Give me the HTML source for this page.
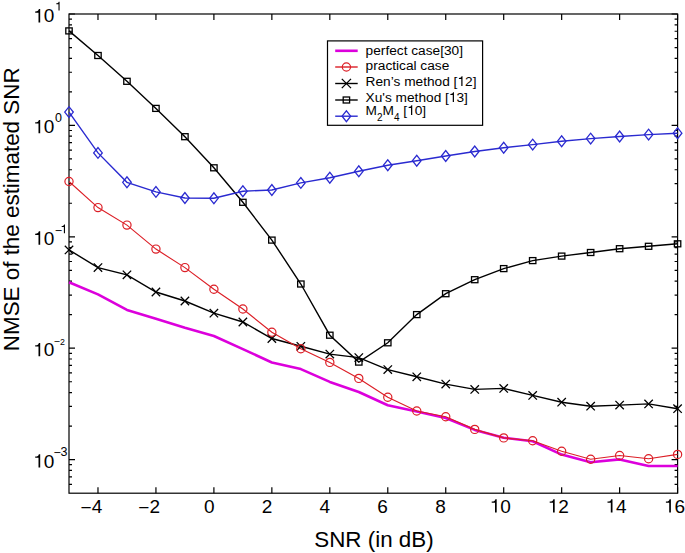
<!DOCTYPE html>
<html><head><meta charset="utf-8"><style>
html,body{margin:0;padding:0;background:#fff;}
svg{display:block;font-family:"Liberation Sans",sans-serif;}
</style></head><body>
<svg width="685" height="553" viewBox="0 0 685 553">
<rect x="69.0" y="14.0" width="608.60" height="479.20" fill="none" stroke="#000" stroke-width="1.2"/>
<path d="M97.98,493.2v-6M97.98,14.0v6M155.94,493.2v-6M155.94,14.0v6M213.90,493.2v-6M213.90,14.0v6M271.86,493.2v-6M271.86,14.0v6M329.82,493.2v-6M329.82,14.0v6M387.78,493.2v-6M387.78,14.0v6M445.74,493.2v-6M445.74,14.0v6M503.70,493.2v-6M503.70,14.0v6M561.66,493.2v-6M561.66,14.0v6M619.62,493.2v-6M619.62,14.0v6M677.58,493.2v-6M677.58,14.0v6M69.0,459.60h6M677.6,459.60h-6M69.0,484.31h3M677.6,484.31h-3M69.0,476.86h3M677.6,476.86h-3M69.0,470.40h3M677.6,470.40h-3M69.0,464.70h3M677.6,464.70h-3M69.0,348.20h6M677.6,348.20h-6M69.0,426.07h3M677.6,426.07h-3M69.0,406.45h3M677.6,406.45h-3M69.0,392.53h3M677.6,392.53h-3M69.0,381.73h3M677.6,381.73h-3M69.0,372.91h3M677.6,372.91h-3M69.0,365.46h3M677.6,365.46h-3M69.0,359.00h3M677.6,359.00h-3M69.0,353.30h3M677.6,353.30h-3M69.0,236.80h6M677.6,236.80h-6M69.0,314.67h3M677.6,314.67h-3M69.0,295.05h3M677.6,295.05h-3M69.0,281.13h3M677.6,281.13h-3M69.0,270.33h3M677.6,270.33h-3M69.0,261.51h3M677.6,261.51h-3M69.0,254.06h3M677.6,254.06h-3M69.0,247.60h3M677.6,247.60h-3M69.0,241.90h3M677.6,241.90h-3M69.0,125.40h6M677.6,125.40h-6M69.0,203.27h3M677.6,203.27h-3M69.0,183.65h3M677.6,183.65h-3M69.0,169.73h3M677.6,169.73h-3M69.0,158.93h3M677.6,158.93h-3M69.0,150.11h3M677.6,150.11h-3M69.0,142.66h3M677.6,142.66h-3M69.0,136.20h3M677.6,136.20h-3M69.0,130.50h3M677.6,130.50h-3M69.0,14.00h6M677.6,14.00h-6M69.0,91.87h3M677.6,91.87h-3M69.0,72.25h3M677.6,72.25h-3M69.0,58.33h3M677.6,58.33h-3M69.0,47.53h3M677.6,47.53h-3M69.0,38.71h3M677.6,38.71h-3M69.0,31.26h3M677.6,31.26h-3M69.0,24.80h3M677.6,24.80h-3M69.0,19.10h3M677.6,19.10h-3" stroke="#000" stroke-width="1.2" fill="none"/>
<polyline points="69.00,282.30 97.98,294.40 126.96,309.90 155.94,318.70 184.92,327.80 213.90,336.00 242.88,349.10 271.86,362.50 300.84,369.10 329.82,381.90 358.80,392.00 387.78,405.20 416.76,411.50 445.74,418.00 474.72,429.90 503.70,437.70 532.68,441.30 561.66,454.60 590.64,462.30 619.62,459.40 648.60,466.00 677.58,466.00" fill="none" stroke="#dc00dc" stroke-width="2.6" stroke-linejoin="round"/>
<polyline points="69.00,30.90 97.98,55.50 126.96,81.30 155.94,108.40 184.92,136.70 213.90,167.80 242.88,202.30 271.86,240.10 300.84,284.00 329.82,335.20 358.80,362.10 387.78,342.80 416.76,314.60 445.74,293.70 474.72,279.70 503.70,268.60 532.68,260.60 561.66,256.10 590.64,252.50 619.62,248.70 648.60,246.30 677.58,243.80" fill="none" stroke="#000" stroke-width="1.4"/>
<polyline points="69.00,112.10 97.98,152.90 126.96,182.30 155.94,191.90 184.92,198.00 213.90,198.30 242.88,191.20 271.86,190.00 300.84,182.90 329.82,177.70 358.80,171.30 387.78,165.20 416.76,160.70 445.74,156.00 474.72,151.50 503.70,147.70 532.68,144.60 561.66,141.30 590.64,138.60 619.62,136.50 648.60,134.60 677.58,133.20" fill="none" stroke="#2a2ad0" stroke-width="1.4"/>
<polyline points="69.00,249.90 97.98,267.60 126.96,274.80 155.94,292.00 184.92,301.00 213.90,313.20 242.88,322.00 271.86,338.50 300.84,346.30 329.82,354.10 358.80,357.60 387.78,369.60 416.76,376.80 445.74,384.10 474.72,389.40 503.70,388.40 532.68,395.40 561.66,402.20 590.64,406.20 619.62,405.10 648.60,403.90 677.58,408.70" fill="none" stroke="#000" stroke-width="1.4"/>
<polyline points="69.00,181.50 97.98,207.60 126.96,225.10 155.94,249.10 184.92,267.60 213.90,289.20 242.88,309.00 271.86,332.20 300.84,348.80 329.82,362.40 358.80,378.40 387.78,397.20 416.76,411.00 445.74,416.70 474.72,429.40 503.70,437.90 532.68,440.80 561.66,451.30 590.64,459.20 619.62,455.50 648.60,458.70 677.58,454.40" fill="none" stroke="#dc1e26" stroke-width="1.15"/>
<rect x="65.80" y="27.90" width="6.4" height="6.0" fill="none" stroke="#000" stroke-width="1.3"/>
<rect x="94.78" y="52.50" width="6.4" height="6.0" fill="none" stroke="#000" stroke-width="1.3"/>
<rect x="123.76" y="78.30" width="6.4" height="6.0" fill="none" stroke="#000" stroke-width="1.3"/>
<rect x="152.74" y="105.40" width="6.4" height="6.0" fill="none" stroke="#000" stroke-width="1.3"/>
<rect x="181.72" y="133.70" width="6.4" height="6.0" fill="none" stroke="#000" stroke-width="1.3"/>
<rect x="210.70" y="164.80" width="6.4" height="6.0" fill="none" stroke="#000" stroke-width="1.3"/>
<rect x="239.68" y="199.30" width="6.4" height="6.0" fill="none" stroke="#000" stroke-width="1.3"/>
<rect x="268.66" y="237.10" width="6.4" height="6.0" fill="none" stroke="#000" stroke-width="1.3"/>
<rect x="297.64" y="281.00" width="6.4" height="6.0" fill="none" stroke="#000" stroke-width="1.3"/>
<rect x="326.62" y="332.20" width="6.4" height="6.0" fill="none" stroke="#000" stroke-width="1.3"/>
<rect x="355.60" y="359.10" width="6.4" height="6.0" fill="none" stroke="#000" stroke-width="1.3"/>
<rect x="384.58" y="339.80" width="6.4" height="6.0" fill="none" stroke="#000" stroke-width="1.3"/>
<rect x="413.56" y="311.60" width="6.4" height="6.0" fill="none" stroke="#000" stroke-width="1.3"/>
<rect x="442.54" y="290.70" width="6.4" height="6.0" fill="none" stroke="#000" stroke-width="1.3"/>
<rect x="471.52" y="276.70" width="6.4" height="6.0" fill="none" stroke="#000" stroke-width="1.3"/>
<rect x="500.50" y="265.60" width="6.4" height="6.0" fill="none" stroke="#000" stroke-width="1.3"/>
<rect x="529.48" y="257.60" width="6.4" height="6.0" fill="none" stroke="#000" stroke-width="1.3"/>
<rect x="558.46" y="253.10" width="6.4" height="6.0" fill="none" stroke="#000" stroke-width="1.3"/>
<rect x="587.44" y="249.50" width="6.4" height="6.0" fill="none" stroke="#000" stroke-width="1.3"/>
<rect x="616.42" y="245.70" width="6.4" height="6.0" fill="none" stroke="#000" stroke-width="1.3"/>
<rect x="645.40" y="243.30" width="6.4" height="6.0" fill="none" stroke="#000" stroke-width="1.3"/>
<rect x="674.38" y="240.80" width="6.4" height="6.0" fill="none" stroke="#000" stroke-width="1.3"/>
<path d="M64.70,112.10L69.00,106.70L73.30,112.10L69.00,117.50Z" fill="none" stroke="#2a2ad0" stroke-width="1.3"/>
<path d="M93.68,152.90L97.98,147.50L102.28,152.90L97.98,158.30Z" fill="none" stroke="#2a2ad0" stroke-width="1.3"/>
<path d="M122.66,182.30L126.96,176.90L131.26,182.30L126.96,187.70Z" fill="none" stroke="#2a2ad0" stroke-width="1.3"/>
<path d="M151.64,191.90L155.94,186.50L160.24,191.90L155.94,197.30Z" fill="none" stroke="#2a2ad0" stroke-width="1.3"/>
<path d="M180.62,198.00L184.92,192.60L189.22,198.00L184.92,203.40Z" fill="none" stroke="#2a2ad0" stroke-width="1.3"/>
<path d="M209.60,198.30L213.90,192.90L218.20,198.30L213.90,203.70Z" fill="none" stroke="#2a2ad0" stroke-width="1.3"/>
<path d="M238.58,191.20L242.88,185.80L247.18,191.20L242.88,196.60Z" fill="none" stroke="#2a2ad0" stroke-width="1.3"/>
<path d="M267.56,190.00L271.86,184.60L276.16,190.00L271.86,195.40Z" fill="none" stroke="#2a2ad0" stroke-width="1.3"/>
<path d="M296.54,182.90L300.84,177.50L305.14,182.90L300.84,188.30Z" fill="none" stroke="#2a2ad0" stroke-width="1.3"/>
<path d="M325.52,177.70L329.82,172.30L334.12,177.70L329.82,183.10Z" fill="none" stroke="#2a2ad0" stroke-width="1.3"/>
<path d="M354.50,171.30L358.80,165.90L363.10,171.30L358.80,176.70Z" fill="none" stroke="#2a2ad0" stroke-width="1.3"/>
<path d="M383.48,165.20L387.78,159.80L392.08,165.20L387.78,170.60Z" fill="none" stroke="#2a2ad0" stroke-width="1.3"/>
<path d="M412.46,160.70L416.76,155.30L421.06,160.70L416.76,166.10Z" fill="none" stroke="#2a2ad0" stroke-width="1.3"/>
<path d="M441.44,156.00L445.74,150.60L450.04,156.00L445.74,161.40Z" fill="none" stroke="#2a2ad0" stroke-width="1.3"/>
<path d="M470.42,151.50L474.72,146.10L479.02,151.50L474.72,156.90Z" fill="none" stroke="#2a2ad0" stroke-width="1.3"/>
<path d="M499.40,147.70L503.70,142.30L508.00,147.70L503.70,153.10Z" fill="none" stroke="#2a2ad0" stroke-width="1.3"/>
<path d="M528.38,144.60L532.68,139.20L536.98,144.60L532.68,150.00Z" fill="none" stroke="#2a2ad0" stroke-width="1.3"/>
<path d="M557.36,141.30L561.66,135.90L565.96,141.30L561.66,146.70Z" fill="none" stroke="#2a2ad0" stroke-width="1.3"/>
<path d="M586.34,138.60L590.64,133.20L594.94,138.60L590.64,144.00Z" fill="none" stroke="#2a2ad0" stroke-width="1.3"/>
<path d="M615.32,136.50L619.62,131.10L623.92,136.50L619.62,141.90Z" fill="none" stroke="#2a2ad0" stroke-width="1.3"/>
<path d="M644.30,134.60L648.60,129.20L652.90,134.60L648.60,140.00Z" fill="none" stroke="#2a2ad0" stroke-width="1.3"/>
<path d="M673.28,133.20L677.58,127.80L681.88,133.20L677.58,138.60Z" fill="none" stroke="#2a2ad0" stroke-width="1.3"/>
<path d="M64.80,245.70L73.20,254.10M64.80,254.10L73.20,245.70" stroke="#000" stroke-width="1.3"/>
<path d="M93.78,263.40L102.18,271.80M93.78,271.80L102.18,263.40" stroke="#000" stroke-width="1.3"/>
<path d="M122.76,270.60L131.16,279.00M122.76,279.00L131.16,270.60" stroke="#000" stroke-width="1.3"/>
<path d="M151.74,287.80L160.14,296.20M151.74,296.20L160.14,287.80" stroke="#000" stroke-width="1.3"/>
<path d="M180.72,296.80L189.12,305.20M180.72,305.20L189.12,296.80" stroke="#000" stroke-width="1.3"/>
<path d="M209.70,309.00L218.10,317.40M209.70,317.40L218.10,309.00" stroke="#000" stroke-width="1.3"/>
<path d="M238.68,317.80L247.08,326.20M238.68,326.20L247.08,317.80" stroke="#000" stroke-width="1.3"/>
<path d="M267.66,334.30L276.06,342.70M267.66,342.70L276.06,334.30" stroke="#000" stroke-width="1.3"/>
<path d="M296.64,342.10L305.04,350.50M296.64,350.50L305.04,342.10" stroke="#000" stroke-width="1.3"/>
<path d="M325.62,349.90L334.02,358.30M325.62,358.30L334.02,349.90" stroke="#000" stroke-width="1.3"/>
<path d="M354.60,353.40L363.00,361.80M354.60,361.80L363.00,353.40" stroke="#000" stroke-width="1.3"/>
<path d="M383.58,365.40L391.98,373.80M383.58,373.80L391.98,365.40" stroke="#000" stroke-width="1.3"/>
<path d="M412.56,372.60L420.96,381.00M412.56,381.00L420.96,372.60" stroke="#000" stroke-width="1.3"/>
<path d="M441.54,379.90L449.94,388.30M441.54,388.30L449.94,379.90" stroke="#000" stroke-width="1.3"/>
<path d="M470.52,385.20L478.92,393.60M470.52,393.60L478.92,385.20" stroke="#000" stroke-width="1.3"/>
<path d="M499.50,384.20L507.90,392.60M499.50,392.60L507.90,384.20" stroke="#000" stroke-width="1.3"/>
<path d="M528.48,391.20L536.88,399.60M528.48,399.60L536.88,391.20" stroke="#000" stroke-width="1.3"/>
<path d="M557.46,398.00L565.86,406.40M557.46,406.40L565.86,398.00" stroke="#000" stroke-width="1.3"/>
<path d="M586.44,402.00L594.84,410.40M586.44,410.40L594.84,402.00" stroke="#000" stroke-width="1.3"/>
<path d="M615.42,400.90L623.82,409.30M615.42,409.30L623.82,400.90" stroke="#000" stroke-width="1.3"/>
<path d="M644.40,399.70L652.80,408.10M644.40,408.10L652.80,399.70" stroke="#000" stroke-width="1.3"/>
<path d="M673.38,404.50L681.78,412.90M673.38,412.90L681.78,404.50" stroke="#000" stroke-width="1.3"/>
<circle cx="69.00" cy="181.50" r="4.1" fill="none" stroke="#dc1e26" stroke-width="1.2"/>
<circle cx="97.98" cy="207.60" r="4.1" fill="none" stroke="#dc1e26" stroke-width="1.2"/>
<circle cx="126.96" cy="225.10" r="4.1" fill="none" stroke="#dc1e26" stroke-width="1.2"/>
<circle cx="155.94" cy="249.10" r="4.1" fill="none" stroke="#dc1e26" stroke-width="1.2"/>
<circle cx="184.92" cy="267.60" r="4.1" fill="none" stroke="#dc1e26" stroke-width="1.2"/>
<circle cx="213.90" cy="289.20" r="4.1" fill="none" stroke="#dc1e26" stroke-width="1.2"/>
<circle cx="242.88" cy="309.00" r="4.1" fill="none" stroke="#dc1e26" stroke-width="1.2"/>
<circle cx="271.86" cy="332.20" r="4.1" fill="none" stroke="#dc1e26" stroke-width="1.2"/>
<circle cx="300.84" cy="348.80" r="4.1" fill="none" stroke="#dc1e26" stroke-width="1.2"/>
<circle cx="329.82" cy="362.40" r="4.1" fill="none" stroke="#dc1e26" stroke-width="1.2"/>
<circle cx="358.80" cy="378.40" r="4.1" fill="none" stroke="#dc1e26" stroke-width="1.2"/>
<circle cx="387.78" cy="397.20" r="4.1" fill="none" stroke="#dc1e26" stroke-width="1.2"/>
<circle cx="416.76" cy="411.00" r="4.1" fill="none" stroke="#dc1e26" stroke-width="1.2"/>
<circle cx="445.74" cy="416.70" r="4.1" fill="none" stroke="#dc1e26" stroke-width="1.2"/>
<circle cx="474.72" cy="429.40" r="4.1" fill="none" stroke="#dc1e26" stroke-width="1.2"/>
<circle cx="503.70" cy="437.90" r="4.1" fill="none" stroke="#dc1e26" stroke-width="1.2"/>
<circle cx="532.68" cy="440.80" r="4.1" fill="none" stroke="#dc1e26" stroke-width="1.2"/>
<circle cx="561.66" cy="451.30" r="4.1" fill="none" stroke="#dc1e26" stroke-width="1.2"/>
<circle cx="590.64" cy="459.20" r="4.1" fill="none" stroke="#dc1e26" stroke-width="1.2"/>
<circle cx="619.62" cy="455.50" r="4.1" fill="none" stroke="#dc1e26" stroke-width="1.2"/>
<circle cx="648.60" cy="458.70" r="4.1" fill="none" stroke="#dc1e26" stroke-width="1.2"/>
<circle cx="677.58" cy="454.40" r="4.1" fill="none" stroke="#dc1e26" stroke-width="1.2"/>
<rect x="327.5" y="40.9" width="155.1" height="84.4" fill="#fff" stroke="#000" stroke-width="1.2"/>
<path d="M335.2,50.8H357.7" stroke="#dc00dc" stroke-width="2.6"/>
<path d="M335.2,67.0H357.7" stroke="#dc1e26" stroke-width="1.4"/>
<circle cx="346.40" cy="67.00" r="4.1" fill="none" stroke="#dc1e26" stroke-width="1.2"/>
<path d="M335.2,83.5H357.7" stroke="#000" stroke-width="1.4"/>
<path d="M341.80,78.90L351.00,88.10M341.80,88.10L351.00,78.90" stroke="#000" stroke-width="1.3"/>
<path d="M335.2,100.0H357.7" stroke="#000" stroke-width="1.4"/>
<rect x="343.20" y="97.00" width="6.4" height="6.0" fill="none" stroke="#000" stroke-width="1.3"/>
<path d="M335.2,116.2H357.7" stroke="#2a2ad0" stroke-width="1.4"/>
<path d="M342.10,116.20L346.40,110.80L350.70,116.20L346.40,121.60Z" fill="none" stroke="#2a2ad0" stroke-width="1.3"/>
<text x="365.60" y="55.00" font-size="13.7">perfect case[30]</text>
<text x="365.60" y="70.10" font-size="13.7">practical case</text>
<text x="365.60" y="86.00" font-size="13.7">Ren’s method [ 2]</text><path transform="matrix(13.7 0 0 -13.7 457.41 86.00)" d="M0.372,0L0.372,0.703L0.302,0.703C0.287,0.625 0.240,0.585 0.109,0.578L0.109,0.510L0.283,0.510L0.283,0Z"/>
<text x="365.60" y="102.00" font-size="13.7">Xu's method [ 3]</text><path transform="matrix(13.7 0 0 -13.7 448.87 102.00)" d="M0.372,0L0.372,0.703L0.302,0.703C0.287,0.625 0.240,0.585 0.109,0.578L0.109,0.510L0.283,0.510L0.283,0Z"/>
<text x="365.60" y="115.00" font-size="13.7">M</text>
<text x="377.01" y="121.40" font-size="10.0">2</text>
<text x="382.57" y="115.00" font-size="13.7">M</text>
<text x="393.98" y="121.40" font-size="10.0">4</text>
<text x="399.54" y="115.00" font-size="13.7"> [ 0]</text><path transform="matrix(13.7 0 0 -13.7 407.15 115.00)" d="M0.372,0L0.372,0.703L0.302,0.703C0.287,0.625 0.240,0.585 0.109,0.578L0.109,0.510L0.283,0.510L0.283,0Z"/>
<text x="80.56" y="514.40" font-size="19">−</text>
<text x="91.66" y="512.50" font-size="19">4</text>
<text x="138.36" y="514.40" font-size="19">−</text>
<text x="149.46" y="512.50" font-size="19">2</text>
<text x="203.96" y="512.50" font-size="19">0</text>
<text x="261.64" y="512.50" font-size="19">2</text>
<text x="319.56" y="512.50" font-size="19">4</text>
<text x="377.34" y="512.50" font-size="19">6</text>
<text x="435.17" y="512.50" font-size="19">8</text>
<text x="489.63" y="512.50" font-size="19"> 0</text><path transform="matrix(19 0 0 -19 489.63 512.50)" d="M0.372,0L0.372,0.703L0.302,0.703C0.287,0.625 0.240,0.585 0.109,0.578L0.109,0.510L0.283,0.510L0.283,0Z"/>
<text x="547.63" y="512.50" font-size="19"> 2</text><path transform="matrix(19 0 0 -19 547.63 512.50)" d="M0.372,0L0.372,0.703L0.302,0.703C0.287,0.625 0.240,0.585 0.109,0.578L0.109,0.510L0.283,0.510L0.283,0Z"/>
<text x="605.43" y="512.50" font-size="19"> 4</text><path transform="matrix(19 0 0 -19 605.43 512.50)" d="M0.372,0L0.372,0.703L0.302,0.703C0.287,0.625 0.240,0.585 0.109,0.578L0.109,0.510L0.283,0.510L0.283,0Z"/>
<text x="663.83" y="512.50" font-size="19"> 6</text><path transform="matrix(19 0 0 -19 663.83 512.50)" d="M0.372,0L0.372,0.703L0.302,0.703C0.287,0.625 0.240,0.585 0.109,0.578L0.109,0.510L0.283,0.510L0.283,0Z"/>
<text x="33.13" y="22.40" font-size="19"> 0</text><path transform="matrix(19 0 0 -19 33.13 22.40)" d="M0.372,0L0.372,0.703L0.302,0.703C0.287,0.625 0.240,0.585 0.109,0.578L0.109,0.510L0.283,0.510L0.283,0Z"/>
<text x="33.13" y="133.30" font-size="19"> 0</text><path transform="matrix(19 0 0 -19 33.13 133.30)" d="M0.372,0L0.372,0.703L0.302,0.703C0.287,0.625 0.240,0.585 0.109,0.578L0.109,0.510L0.283,0.510L0.283,0Z"/>
<text x="33.13" y="244.70" font-size="19"> 0</text><path transform="matrix(19 0 0 -19 33.13 244.70)" d="M0.372,0L0.372,0.703L0.302,0.703C0.287,0.625 0.240,0.585 0.109,0.578L0.109,0.510L0.283,0.510L0.283,0Z"/>
<text x="33.13" y="356.30" font-size="19"> 0</text><path transform="matrix(19 0 0 -19 33.13 356.30)" d="M0.372,0L0.372,0.703L0.302,0.703C0.287,0.625 0.240,0.585 0.109,0.578L0.109,0.510L0.283,0.510L0.283,0Z"/>
<text x="33.13" y="467.50" font-size="19"> 0</text><path transform="matrix(19 0 0 -19 33.13 467.50)" d="M0.372,0L0.372,0.703L0.302,0.703C0.287,0.625 0.240,0.585 0.109,0.578L0.109,0.510L0.283,0.510L0.283,0Z"/>
<text x="54.94" y="10.50" font-size="12.5"> </text><path transform="matrix(12.5 0 0 -12.5 54.94 10.50)" d="M0.372,0L0.372,0.703L0.302,0.703C0.287,0.625 0.240,0.585 0.109,0.578L0.109,0.510L0.283,0.510L0.283,0Z"/>
<text x="55.11" y="121.80" font-size="12.5">0</text>
<text x="54.78" y="234.66" font-size="12.5">−</text>
<text x="60.34" y="233.30" font-size="12.5"> </text><path transform="matrix(12.5 0 0 -12.5 60.34 233.30)" d="M0.372,0L0.372,0.703L0.302,0.703C0.287,0.625 0.240,0.585 0.109,0.578L0.109,0.510L0.283,0.510L0.283,0Z"/>
<text x="53.78" y="345.09" font-size="10.5">−</text>
<text x="59.96" y="344.50" font-size="8.8">2</text>
<text x="53.48" y="457.06" font-size="12.5">−</text>
<text x="60.52" y="456.40" font-size="12.5">3</text>
<text x="374" y="547.4" font-size="22.4" text-anchor="middle">SNR (in dB)</text>
<text transform="translate(19.2,209.3) rotate(-90)" x="0" y="0" font-size="22.4" text-anchor="middle">NMSE of the estimated SNR</text>
</svg>
</body></html>
